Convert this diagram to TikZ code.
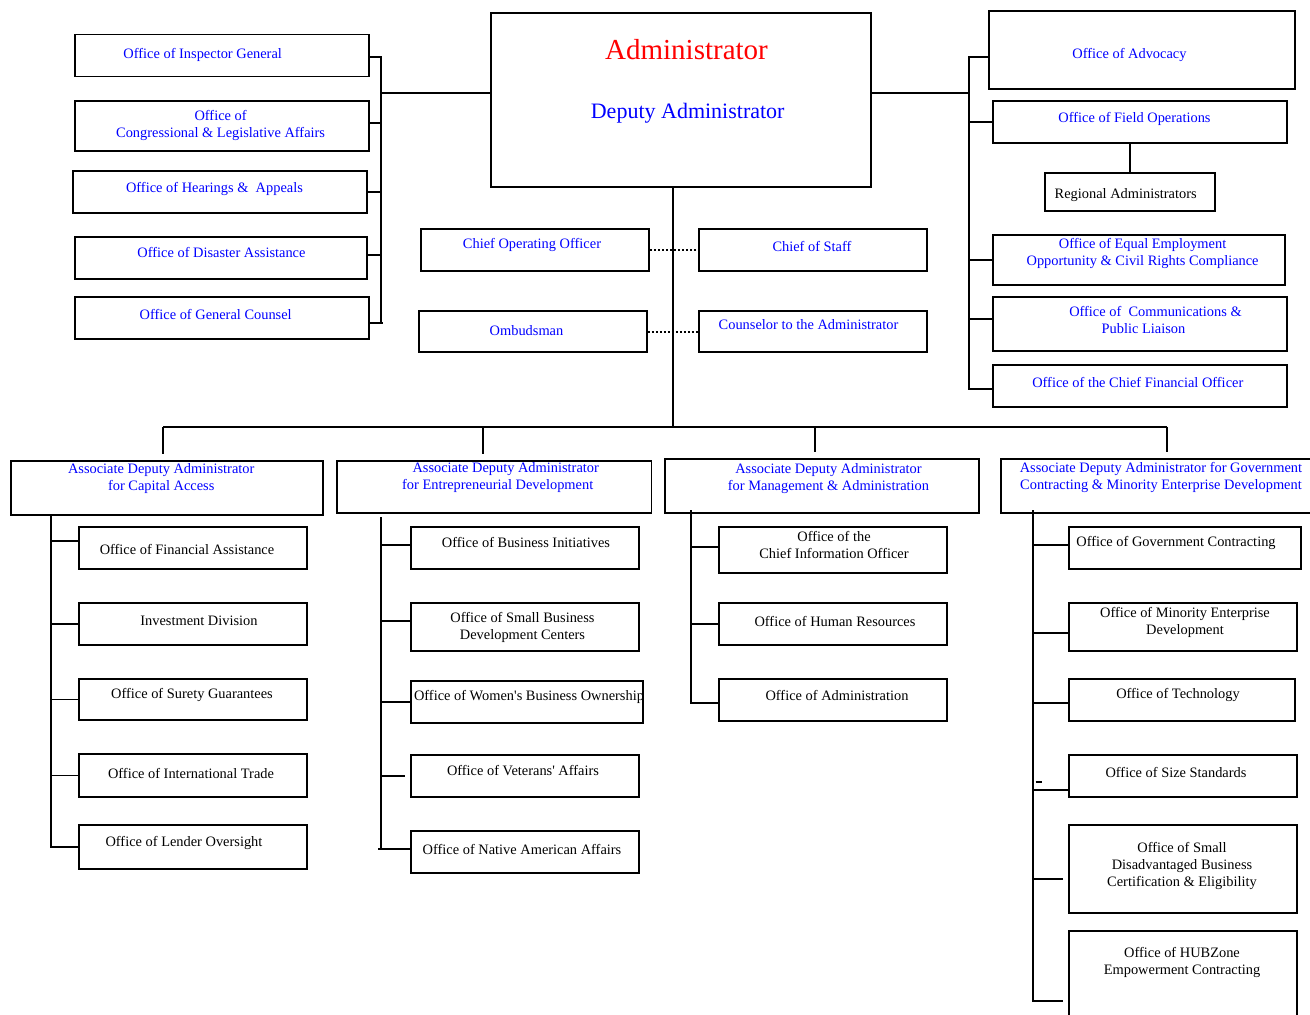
\documentclass[tikz,border=0pt]{standalone}
\usepackage{fontspec}
\setmainfont{Liberation Serif}[Ligatures=TeXOff]
\usetikzlibrary{calc}

\begin{document}
\begin{tikzpicture}[x=1pt,y=-1pt,
    sz/.style 2 args={minimum width=#1pt,minimum height=#2pt},
    dotline/.style={dash pattern=on 2pt off 2pt}]
   \fill[white] (0,0) rectangle (1310,1015);
   \useasboundingbox (0,0) rectangle (1310,1015);
   \begin{scope}[every node/.style={draw=black,line width=1.8pt,inner sep=0pt}]
    \node (ig)    at (222,55.5)       [sz={294}{42}] {};
    \node (cla)   at (222,125.7)      [sz={294}{50}] {};
    \node (oha)   at (219.85,191.85)  [sz={294.3}{41.7}] {};
    \node (oda)   at (221,257.7)      [sz={292}{42}] {};
    \node (ogc)   at (222,317.7)      [sz={294}{42}] {};
    \node (admin) at (680.85,100)     [sz={380.3}{174}] {};
    \node (coo)   at (535.15,249.7)   [sz={228.3}{42}] {};
    \node (cos)   at (812.85,249.7)   [sz={228.3}{42}] {};
    \node (omb)   at (533,331.65)     [sz={228}{41.3}] {};
    \node (cta)   at (812.85,331.65)  [sz={228.3}{41.3}] {};
    \node (adv)   at (1142,50)        [sz={306}{78}] {};
    \node (ofo)   at (1139.85,121.85) [sz={294.3}{42.3}] {};
    \node (reg)   at (1129.85,191.85) [sz={170.3}{38.3}] {};
    \node (eeo)   at (1138.85,259.85) [sz={292.3}{50.3}] {};
    \node (ocpl)  at (1139.85,323.7)  [sz={294.3}{54}] {};
    \node (cfo)   at (1139.85,385.85) [sz={294.3}{41.7}] {};
    \node (adaca) at (167,487.85)     [sz={312}{54.3}] {};
    \node (adaed) at (494.1,486.7)    [sz={314.8}{52}] {};
    \node (adama) at (821.7,485.7)    [sz={314}{54}] {};
    \node (adagc) at (1157.8,485.7)   [sz={314.4}{54}] {};
    \node (ofa)   at (193,548)        [sz={228}{42}] {};
    \node (oid)   at (193,624)        [sz={228}{42}] {};
    \node (osg)   at (193,699.5)      [sz={228}{41}] {};
    \node (oit)   at (193,775.5)      [sz={228}{43}] {};
    \node (olo)   at (193,847)        [sz={228}{44}] {};
    \node (obi)   at (525,548)        [sz={228}{42}] {};
    \node (sbdc)  at (525,627)        [sz={228}{48}] {};
    \node (owbo)  at (527,702)        [sz={232}{42}] {};
    \node (ova)   at (525,776)        [sz={228}{42}] {};
    \node (onaa)  at (525,852)        [sz={228}{42}] {};
    \node (cio)   at (833,550)        [sz={228}{46}] {};
    \node (ohr)   at (833,624)        [sz={228}{42}] {};
    \node (oad)   at (833,700)        [sz={228}{42}] {};
    \node (ogcon) at (1185,548)       [sz={232}{42}] {};
    \node (omed)  at (1183,627)       [sz={228}{48}] {};
    \node (otech) at (1182,700)       [sz={226}{42}] {};
    \node (oss)   at (1183,776)       [sz={228}{42}] {};
    \node (osdb)  at (1183,869)       [sz={228}{88}] {};
    \node (ohub)  at (1183,975.5)     [sz={228}{89}] {};
   \end{scope}
   \begin{scope}[every node/.style={text=blue,font=\fontsize{14.4}{17}\selectfont,align=center,inner sep=0pt,yshift=-2.5pt}]
    \node (admin-t) at (686.5,47.5) [text=red,font=\fontsize{29}{34}\selectfont] {Administrator};
    \node (deputy-t) at (687.7,110.5) [font=\fontsize{22}{26}\selectfont] {Deputy Administrator};
    \node (ig-t)    at (202.7,52.3)  {Office of Inspector General};
    \node (cla-t)   at (220.6,123.3) {Office of\\Congressional \& Legislative Affairs};
    \node (oha-t)   at (214.5,186.7) {Office of Hearings \&\ \ Appeals};
    \node (oda-t)   at (221.5,250.3) {Office of Disaster Assistance};
    \node (ogc-t)   at (215.7,312.3) {Office of General Counsel};
    \node (coo-t)   at (532,242.3)   {Chief Operating Officer};
    \node (cos-t)   at (812,244.3)   {Chief of Staff};
    \node (omb-t)   at (526.5,328.3) {Ombudsman};
    \node (cta-t)   at (808.5,322.3) {Counselor to the Administrator};
    \node (adv-t)   at (1129.5,52.3) {Office of Advocacy};
    \node (ofo-t)   at (1134.5,116.7) {Office of Field Operations};
    \node (eeo-t)   at (1142.6,251.3) {Office of Equal Employment\\Opportunity \& Civil Rights Compliance};
    \node (ocpl-t)  at (1143.5,317.3) {\hspace*{24pt}Office of\ \ Communications \&\\Public Liaison};
    \node (cfo-t)   at (1137.8,380.3) {Office of the Chief Financial Officer};
    \node (adaca-t) at (161.2,476.5) {Associate Deputy Administrator\\for Capital Access};
    \node (adaed-t) at (497.7,475.5) {\hspace*{16pt}Associate Deputy Administrator\\for Entrepreneurial Development};
    \node (adama-t) at (828.5,476.5) {Associate Deputy Administrator\\for Management \& Administration};
    \node (adagc-t) at (1161,474.5)  {Associate Deputy Administrator for Government\\Contracting \& Minority Enterprise Development};
   \end{scope}
   \begin{scope}[every node/.style={text=black,font=\fontsize{14.4}{17}\selectfont,align=center,inner sep=0pt,yshift=-2.5pt}]
    \node (reg-t)   at (1125.7,192.7) {Regional Administrators};
    \node (ofa-t)   at (187,546.7)   {Office of Financial Assistance};
    \node (oid-t)   at (199,618.7)   {Investment Division};
    \node (osg-t)   at (192,692.7)   {Office of Surety Guarantees};
    \node (oit-t)   at (191,770.7)   {Office of International Trade};
    \node (olo-t)   at (184,840)     {Office of Lender Oversight};
    \node (obi-t)   at (526,540.3)   {Office of Business Initiatives};
    \node (sbdc-t)  at (522.5,625)   {Office of Small Business\\Development Centers};
    \node (owbo-t)  at (529,694.3)   {Office of Women's Business Ownership};
    \node (ova-t)   at (523,768.3)   {Office of Veterans' Affairs};
    \node (onaa-t)  at (522,846.7)   {Office of Native American Affairs};
    \node (cio-t)   at (834,542.3)   {Office of the\\Chief Information Officer};
    \node (ohr-t)   at (835,618.7)   {Office of Human Resources};
    \node (oad-t)   at (837,692.7)   {Office of Administration};
    \node (ogcon-t) at (1176,540.3)  {Office of Government Contracting};
    \node (omed-t)  at (1185,619.5)  {Office of Minority Enterprise\\Development};
    \node (otech-t) at (1178,692.7)  {Office of Technology};
    \node (oss-t)   at (1176,770.3)  {Office of Size Standards};
    \node (osdb-t)  at (1182,863.5)  {Office of Small\\Disadvantaged Business\\Certification \& Eligibility};
    \node (ohub-t)  at (1182,959.5)  {Office of HUBZone\\Empowerment Contracting};
   \end{scope}
   \coordinate (lb) at (380.7,92.7);
   \coordinate (rb) at (969,92.7);
   \coordinate (hub) at (672.7,426.7);
   \coordinate (d1) at (163,426.7);
   \coordinate (d2) at (482.7,426.7);
   \coordinate (d3) at (814.6,426.7);
   \coordinate (d4) at (1166.8,426.7);
   \coordinate (c1) at (51,515);
   \coordinate (c2) at (381,517);
   \coordinate (c3) at (691,510);
   \coordinate (c4) at (1033,510);
   \begin{scope}[line width=1.8pt]
    % left staff offices
    \draw (lb) -- (lb -| admin.west);
    \draw ($(lb |- ig.east)+(0,1.5)$) -- ($(lb |- ogc.east)+(0,5)$);
    \draw (ig.east) ++(0,1.5) -- +(11.7,0);
    \draw (cla.east) ++(0,-2.7) -- +(11.7,0);
    \draw (oha.east) -- (oha.east -| lb);
    \draw (oda.east) ++(0,-2.7) -- +(13.7,0);
    \draw (ogc.east) ++(0,5) -- +(13,0);
    % right staff offices
    \draw (admin.east |- rb) -- (rb);
    \draw ($(rb |- adv.west)+(0,6.7)$) -- ($(rb |- cfo.west)+(0,2.9)$);
    \draw (adv.west) ++(0,6.7) -- +(-20,0);
    \draw (ofo.west) -- (ofo.west -| rb);
    \draw (eeo.west) -- (eeo.west -| rb);
    \draw (ocpl.west) ++(0,-5) -- +(-23.7,0);
    \draw (cfo.west) ++(0,2.9) -- +(-23.7,0);
    \draw (reg.north) -- (reg.north |- ofo.south);
    % trunk and deputies
    \draw (admin.south -| hub) -- (hub);
    \draw (d1) -- (d4);
    \draw[shorten >=6pt] (d1) -- (d1 |- adaca.north);
    \draw[shorten >=6pt] (d2) -- (d2 |- adaed.north);
    \draw[shorten >=6pt] (d3) -- (d3 |- adama.north);
    \draw[shorten >=6pt] (d4) -- (d4 |- adagc.north);
    \draw[dotline] (coo.east) -- (cos.west);
    \draw[dotline] (omb.east) -- (cta.west);
    % capital access
    \draw (c1) |- (olo.west);
    \draw (ofa.west) ++(0,-7.3) -- +(-28,0);
    \draw (oid.west) -- (oid.west -| c1);
    \draw (osg.west) -- (osg.west -| c1);
    \draw (oit.west) -- (oit.west -| c1);
    % entrepreneurial development
    \draw (c2) -- ($(c2 |- onaa.west)+(0,-3)$);
    \draw (onaa.west) ++(0,-3) -- +(-32,0);
    \draw (obi.west) ++(0,-3.3) -- +(-30,0);
    \draw (sbdc.west) ++(0,-6) -- +(-30,0);
    \draw (owbo.west) -- (owbo.west -| c2);
    \draw (ova.west -| c2) -- +(24,0);
    % management
    \draw (c3) |- ($(oad.west)+(2,3)$);
    \draw (cio.west) ++(0,-3.3) -- +(-28,0);
    \draw (ohr.west) -- (ohr.west -| c3);
    % government contracting
    \draw (c4) |- ($(ohub.west)+(-5,25.5)$);
    \draw (ogcon.west) ++(0,-3) -- +(-36,0);
    \draw (omed.west) ++(0,5.7) -- +(-36,0);
    \draw (otech.west) ++(0,3) -- +(-36,0);
    \draw (oss.west) ++(0,14.3) -- +(-36,0);
    \draw (osdb.west) ++(-5,10) -- +(-31,0);
    \draw (c4 |- oss.west) ++(2.5,6.3) -- +(6,0);
   \end{scope}
\end{tikzpicture}
\end{document}
